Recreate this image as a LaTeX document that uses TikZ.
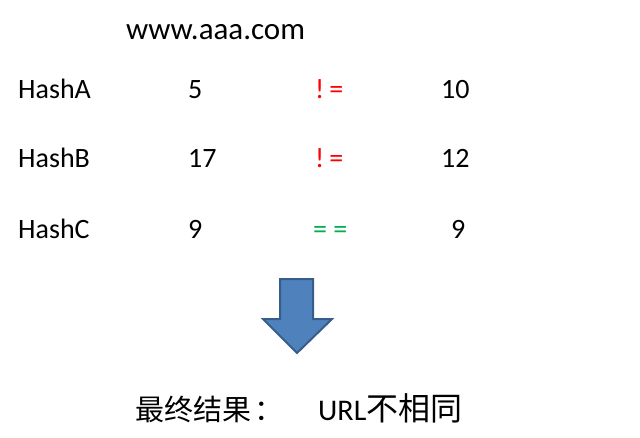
\documentclass[tikz,border=0pt]{standalone}
\usepackage{fontspec}
\setmainfont{Carlito}
\newfontfamily\cjkfont{Noto Sans CJK SC}
\definecolor{neqred}{HTML}{FF0000}
\definecolor{eqgreen}{HTML}{00B050}
\definecolor{arrowfill}{HTML}{4F81BD}
\definecolor{arrowline}{HTML}{385D8A}
\begin{document}
\begin{tikzpicture}[x=1pt,y=-1pt,
    cell/.style={anchor=base west,inner sep=0,font=\fontsize{28}{34}\selectfont},
    neq/.style={cell,text=neqred},
    eq/.style={cell,text=eqgreen}]
    \pgfmathsetmacro{\namecol}{18}
    \pgfmathsetmacro{\leftcol}{188}
    \pgfmathsetmacro{\midcol}{315}
    \pgfmathsetmacro{\rightcol}{441}
    \pgfmathsetmacro{\rowA}{98}
    \pgfmathsetmacro{\rowB}{167}
    \pgfmathsetmacro{\rowC}{238}
    \providecommand{\neqsign}{!\kern5pt=}
    \useasboundingbox (0,0) rectangle (640,437);
    \node[cell,font=\fontsize{31}{37}\selectfont] (url) at (126,39) {www.aaa.com};
    % HashA
    \node[cell] (nameA) at (\namecol,\rowA) {HashA};
    \node[cell] (leftA) at (\leftcol,\rowA) {5};
    \node[neq] (opA) at (\midcol,\rowA) {\neqsign};
    \node[cell] (rightA) at (\rightcol,\rowA) {10};
    % HashB
    \node[cell] (nameB) at (\namecol,\rowB) {HashB};
    \node[cell] (leftB) at (\leftcol,\rowB) {17};
    \node[neq] (opB) at (\midcol,\rowB) {\neqsign};
    \node[cell] (rightB) at (\rightcol,\rowB) {12};
    % HashC
    \node[cell] (nameC) at (\namecol,\rowC) {HashC};
    \node[cell] (leftC) at (\leftcol,\rowC) {9};
    \node[eq] (opC) at (\midcol-2,\rowC) {= =};
    \node[cell] (rightC) at (\rightcol+10,\rowC) {9};
    % arrow
    \draw[line width=2pt,line join=miter,fill=arrowfill,draw=arrowline]
        (280,279) -- (313,279) -- (313,319) -- (332,319) -- (297,353)
        -- (263,319) -- (280,319) -- cycle;
    \node[cell,font=\fontsize{29}{35}\selectfont\cjkfont] (result) at (135,420) {最终结果\kern3pt：};
    \node[cell,font=\fontsize{30}{36}\selectfont] (verdict) at (318,420) {URL{\cjkfont\fontsize{32}{38}\selectfont 不相同}};
\end{tikzpicture}
\end{document}
